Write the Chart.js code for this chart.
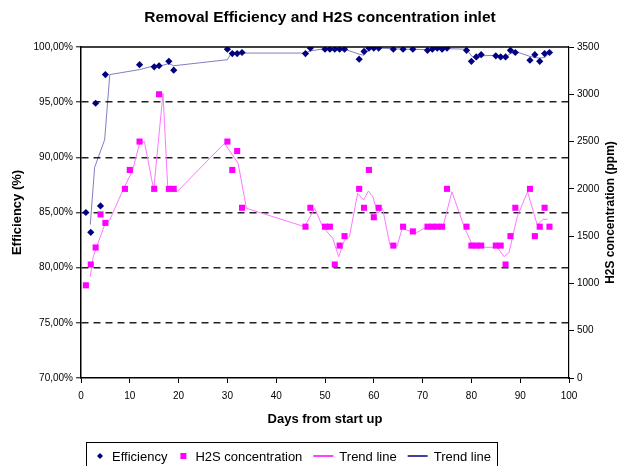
<!DOCTYPE html>
<html><head><meta charset="utf-8">
<script src="https://cdn.jsdelivr.net/npm/chart.js@4/dist/chart.umd.min.js"></script>
<style>html,body{margin:0;padding:0;background:#fff;}#wrap{width:618px;height:466px;}</style>
</head><body><div id="wrap"><canvas id="c" width="618" height="466"></canvas></div>
<script>
// ---- data ----
const chartTitle = 'Removal Efficiency and H2S concentration inlet';
const xTitle = 'Days from start up';
const yTitle = 'Efficiency (%)';
const y2Title = 'H2S concentration (ppm)';

const effDays = [1,2,3,4,5,12,15,16,18,19,30,31,32,33,46,47,50,51,52,53,54,57,58,59,60,61,64,66,68,71,72,73,74,75,79,80,81,82,85,86,87,88,89,92,93,94,95,96];
const effVals = [85.0,83.2,94.9,85.6,97.5,98.4,98.2,98.3,98.7,97.9,99.8,99.4,99.4,99.5,99.4,99.9,99.8,99.8,99.8,99.8,99.8,98.9,99.6,99.9,99.9,99.9,99.8,99.8,99.8,99.7,99.8,99.9,99.8,99.9,99.7,98.7,99.1,99.3,99.2,99.1,99.1,99.7,99.5,98.8,99.3,98.7,99.4,99.5];

const h2sDays = [1,2,3,4,5,9,10,12,15,16,18,19,30,31,32,33,46,47,50,51,52,53,54,57,58,59,60,61,64,66,68,71,72,73,74,75,79,80,81,82,85,86,87,88,89,92,93,94,95,96];
const h2sVals = [980,1200,1380,1730,1640,2000,2200,2500,2000,3000,2000,2000,2500,2200,2400,1800,1600,1800,1600,1600,1200,1400,1500,2000,1800,2200,1700,1800,1400,1600,1550,1600,1600,1600,1600,2000,1600,1400,1400,1400,1400,1400,1200,1500,1800,2000,1500,1600,1800,1600];

const trendH2SDays = [1.9,2.5,4.9,5.9,8.6,10.6,12,13,14.9,16.8,17.8,19.7,29.4,32.2,33.9,45.8,47.9,49.5,51.6,52.8,54,55,56.7,57.9,58.9,59.8,60.8,61.8,63.3,64.8,65.8,67.3,68.3,70.3,74.1,76,78.5,80.2,82.3,85.3,86.7,87.7,89.4,91.5,93.5,94.7,95.6];
const trendH2SVals = [1071,1282,1629,1671,1988,2199,2482,2499,1988,3010,1988,1970,2482,2270,1794,1600,1794,1600,1477,1283,1459,1494,1953,1882,1977,1917,1741,1794,1406,1396,1583,1554,1523,1583,1583,1970,1600,1406,1382,1382,1283,1325,1706,1970,1618,1678,1678];

const trendEffDays = [1.9,2.8,4.85,5.9,12,15,16,18,19,30,31,32,33,46,47,50,51,52,53,54,57,58,59,60,61,64,66,68,71,72,73,74,75,79,80,81,82,85,86,87,88,89,92,93,94,95,96];
const trendEffVals = [83.9,89.1,91.6,97.5,97.95,98.3,98.25,98.5,98.3,98.85,99.6,99.4,99.45,99.45,99.65,99.85,99.8,99.8,99.8,99.8,99.35,99.25,99.75,99.9,99.9,99.85,99.8,99.8,99.75,99.75,99.85,99.85,99.85,99.8,99.2,98.9,99.2,99.25,99.15,99.1,99.4,99.6,99.15,99.05,99.0,99.05,99.45];

const xTicks = [0,10,20,30,40,50,60,70,80,90,100];
const yTicks = [70,75,80,85,90,95,100];
const y2Ticks = [0,500,1000,1500,2000,2500,3000,3500];

// ---- chart ----
const FONT = '"Liberation Sans", Arial, Helvetica, sans-serif';
const toXY = (xs, ys) => xs.map((x, i) => ({x: x, y: ys[i]}));
const NAVY = '#000080', MAG = '#ff00ff';

const deco = {
  id: 'deco',
  afterDraw(chart) {
    const ctx = chart.ctx, a = chart.chartArea;
    ctx.save();
    // top frame line
    ctx.strokeStyle = '#000'; ctx.lineWidth = 1.5;
    ctx.beginPath(); ctx.moveTo(a.left, a.top); ctx.lineTo(a.right, a.top); ctx.stroke();
    // title
    ctx.fillStyle = '#000';
    ctx.textAlign = 'center'; ctx.textBaseline = 'middle';
    ctx.font = 'bold 15.5px ' + FONT;
    ctx.fillText(chartTitle, 320, 18);
    // right axis title (reads bottom to top)
    ctx.save();
    ctx.translate(611, (a.top + a.bottom) / 2);
    ctx.rotate(-Math.PI / 2);
    ctx.font = 'bold 12px ' + FONT;
    ctx.fillText(y2Title, 0, 0);
    ctx.restore();
    // legend
    ctx.font = '13px ' + FONT;
    ctx.textAlign = 'left';
    const boxLeft = 86, boxTop = 442, cy = 456;
    let x = boxLeft + 9;
    chart.data.datasets.forEach((ds) => {
      if (ds.showLine) {
        ctx.strokeStyle = ds.legendColor || ds.borderColor; ctx.lineWidth = 1.5;
        ctx.beginPath(); ctx.moveTo(x, cy); ctx.lineTo(x + 20, cy); ctx.stroke();
        x += 26;
      } else {
        ctx.fillStyle = ds.backgroundColor;
        if (ds.pointStyle === 'rectRot') {
          ctx.beginPath(); ctx.moveTo(x + 5, cy - 3); ctx.lineTo(x + 8, cy); ctx.lineTo(x + 5, cy + 3); ctx.lineTo(x + 2, cy); ctx.closePath(); ctx.fill();
        } else {
          ctx.fillRect(x + 2, cy - 3, 6, 6);
        }
        x += 17;
      }
      ctx.fillStyle = '#000';
      ctx.fillText(ds.label, x, cy + 1);
      x += ctx.measureText(ds.label).width + 11;
    });
    ctx.strokeStyle = '#000'; ctx.lineWidth = 1;
    ctx.strokeRect(boxLeft + 0.5, boxTop + 0.5, x - boxLeft - 5, 40);
    ctx.restore();
  }
};

const gridColor = (c) => (c.tick && (c.tick.value === 70 || c.tick.value === 100)) ? 'rgba(0,0,0,0)' : '#222';

new Chart(document.getElementById('c'), {
  type: 'scatter',
  data: {
    datasets: [
      {label: 'Efficiency', data: toXY(effDays, effVals), yAxisID: 'y', pointStyle: 'rectRot', pointRadius: 3.6, backgroundColor: NAVY, borderColor: NAVY, borderWidth: 0, showLine: false},
      {label: 'H2S concentration', data: toXY(h2sDays, h2sVals), yAxisID: 'y2', pointStyle: 'rect', pointRadius: 4.3, backgroundColor: MAG, borderColor: MAG, borderWidth: 0, showLine: false},
      {label: 'Trend line', data: toXY(trendH2SDays, trendH2SVals), yAxisID: 'y2', showLine: true, pointRadius: 0, borderColor: '#ff77ff', legendColor: MAG, borderWidth: 1, fill: false, tension: 0},
      {label: 'Trend line', data: toXY(trendEffDays, trendEffVals), yAxisID: 'y', showLine: true, pointRadius: 0, borderColor: 'rgba(0,0,128,0.5)', legendColor: NAVY, borderWidth: 1, fill: false, tension: 0}
    ]
  },
  options: {
    responsive: false, animation: false, devicePixelRatio: 1,
    layout: {padding: {top: 47, bottom: 24, left: 0, right: 0}},
    plugins: {legend: {display: false}, title: {display: false}, tooltip: {enabled: false}},
    scales: {
      x: {
        type: 'linear', position: 'bottom', min: 0, max: 100,
        afterBuildTicks: (s) => { s.ticks = xTicks.map(v => ({value: v})); },
        ticks: {font: {family: FONT, size: 10}, color: '#000', padding: 7, maxRotation: 0, callback: (v) => String(v)},
        grid: {drawOnChartArea: false, tickLength: 5, tickColor: '#000', tickWidth: 1},
        border: {color: '#000', width: 1.5},
        title: {display: true, text: xTitle, color: '#000', font: {family: FONT, size: 13, weight: 'bold'}, padding: {top: 0, bottom: 15}},
        afterFit: (s) => { s.height = 64; }
      },
      y: {
        type: 'linear', position: 'left', min: 70, max: 100,
        afterBuildTicks: (s) => { s.ticks = yTicks.map(v => ({value: v})); },
        ticks: {font: {family: FONT, size: 10}, color: '#000', padding: 3,
          callback: (v) => v.toFixed(2).replace('.', ',') + '%'},
        grid: {color: gridColor, lineWidth: 1.6, tickLength: 5, tickColor: '#000', tickWidth: 1},
        border: {color: '#000', width: 1.5, dash: [7, 5]},
        title: {display: true, text: yTitle, color: '#000', font: {family: FONT, size: 13, weight: 'bold'}, padding: {top: 10, bottom: 0}},
        afterFit: (s) => { s.width = 81; }
      },
      y2: {
        type: 'linear', position: 'right', min: 0, max: 3500,
        afterBuildTicks: (s) => { s.ticks = y2Ticks.map(v => ({value: v})); },
        ticks: {font: {family: FONT, size: 10}, color: '#000', padding: 3, callback: (v) => String(v)},
        grid: {drawOnChartArea: false, tickLength: 5, tickColor: '#000', tickWidth: 1},
        border: {color: '#000', width: 1.2},
        afterFit: (s) => { s.width = 49; }
      }
    }
  },
  plugins: [deco]
});
</script>
</body></html>
